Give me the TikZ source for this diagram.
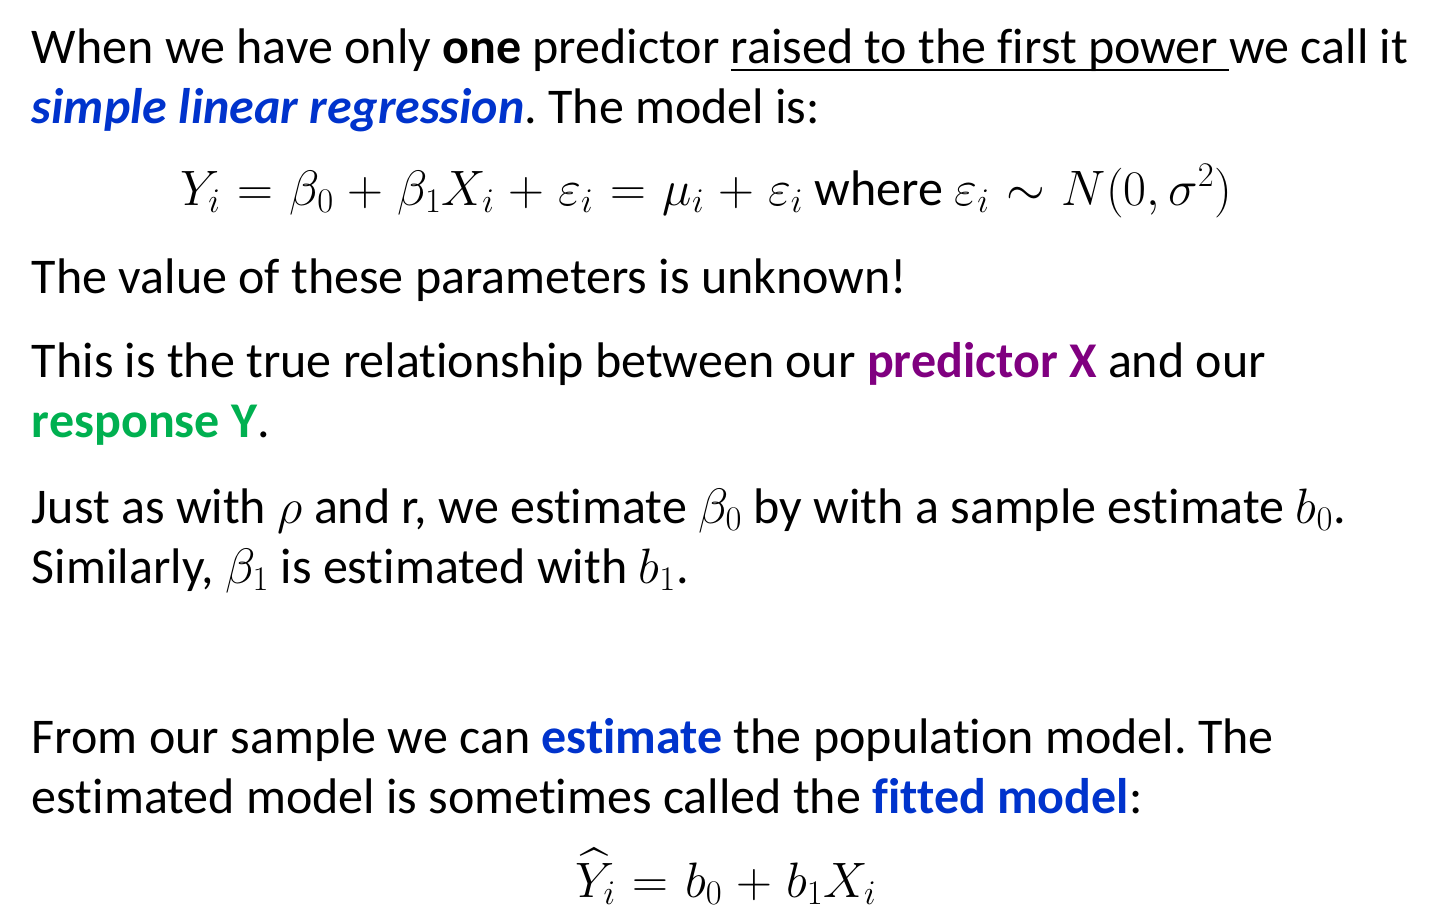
\documentclass[tikz,border=0pt]{standalone}
\usepackage{amsmath,amssymb}
\usepackage[no-math]{fontspec}
\setmainfont{Carlito}[Ligatures=NoCommon]
\definecolor{regblue}{RGB}{0,51,204}
\definecolor{predpurple}{RGB}{128,0,128}
\definecolor{respgreen}{RGB}{0,176,80}
\frenchspacing
\medmuskip=5mu plus 2mu minus 4mu
\thickmuskip=6mu plus 5mu

\begin{document}
\begin{tikzpicture}[x=0.5pt,y=-0.5pt,
    txt/.style={anchor=base west,inner sep=0pt,outer sep=0pt,font=\fontsize{25}{30}\selectfont},
    eqn/.style={txt,anchor=base}]
    \useasboundingbox (0,0) rectangle (1454,911);

    % first paragraph
    \node[txt] (l1a) at (32,63) {When we have only \textbf{one} predictor\ \mbox{}};
    \node[txt] (l1u) at (l1a.base east) {raised to the first power\ \mbox{}};
    \node[txt] (l1b) at (l1u.base east) {we call it};
    \draw[line width=1pt] ([yshift=-3.5pt]l1u.base west) -- ([yshift=-3.5pt]l1u.base east);
    \node[txt] (l2) at (32,123) {\textcolor{regblue}{\textbf{\textit{simple linear regression}}}. The model is:};

    \node[txt] (eq1) at (180,205) {$Y_i=\beta_0+\beta_1X_i+\varepsilon_i=\mu_i+\varepsilon_i$ where $\varepsilon_i\sim N(0,\sigma^2)$};

    \node[txt] (l3) at (32,293) {The value of these parameters is unknown!};
    \node[txt] (l4) at (32,377) {This is the true relationship between our \textcolor{predpurple}{\textbf{predictor X}} and our};
    \node[txt] (l5) at (32,437) {\textcolor{respgreen}{\textbf{response Y}}.};

    \node[txt] (l6) at (32,523) {Just as with $\rho$ and r, we estimate $\beta_0$ by with a sample estimate $b_0$.};
    \node[txt] (l7) at (32,583) {Similarly, $\beta_1$ is estimated with $b_1$.};

    % fitted model
    \node[txt] (l8) at (32,753) {From our sample we can \textcolor{regblue}{\textbf{estimate}} the population model. The};
    \node[txt] (l9) at (32,813) {estimated model is sometimes called the \textcolor{regblue}{\textbf{fitted model}}:};
    \node[eqn] (eq2) at (726,897) {$\widehat{Y}_i=b_0+b_1X_i$};
\end{tikzpicture}
\end{document}
